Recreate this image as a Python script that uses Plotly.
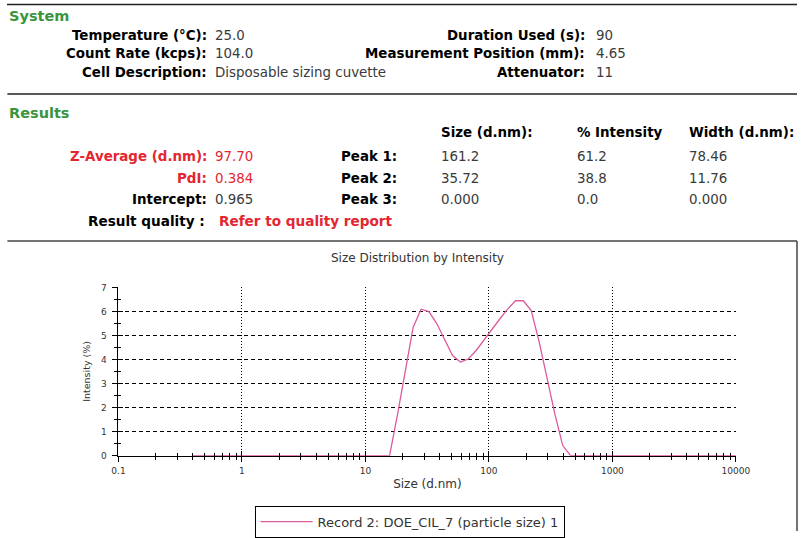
import plotly.graph_objects as go

# ---- Data ----
sizes_nm = [0.4000, 0.4632, 0.5365, 0.6213, 0.7195, 0.8332, 0.9649, 1.117, 1.294, 1.499,
            1.736, 2.010, 2.328, 2.696, 3.122, 3.615, 4.187, 4.849, 5.615, 6.503,
            7.531, 8.721, 10.10, 11.70, 13.54, 15.69, 18.17, 21.04, 24.36, 28.21,
            32.67, 37.84, 43.82, 50.75, 58.77, 68.06, 78.82, 91.28, 105.7, 122.4,
            141.8, 164.2, 190.1, 220.2, 255.0, 295.3, 342.0, 396.1, 458.7, 531.2,
            615.1, 712.4, 825.0, 955.4, 1106, 1281, 1484, 1718, 1990, 2305,
            2669, 3091, 3580, 4145, 4801, 5560, 6439, 7456, 8635, 10000]
intensity_pct = [0, 0, 0, 0, 0, 0, 0, 0, 0, 0,
                 0, 0, 0, 0, 0, 0, 0, 0, 0, 0,
                 0, 0, 0, 0, 0, 0, 1.7, 3.6, 5.35, 6.1,
                 6.0, 5.5, 4.8, 4.17, 3.9, 4.03, 4.38, 4.83, 5.28, 5.69,
                 6.1, 6.45, 6.45, 6.04, 4.75, 3.26, 1.74, 0.42, 0, 0,
                 0, 0, 0, 0, 0, 0, 0, 0, 0, 0,
                 0, 0, 0, 0, 0, 0, 0, 0, 0, 0]

x_tick_vals = [0.1, 1, 10, 100, 1000, 10000]
x_tick_text = ["0.1", "1", "10", "100", "1000", "10000"]
x_minor_vals = [m * d for d in [0.1, 1, 10, 100, 1000] for m in range(2, 10)]

system_left = [("Temperature (°C):", "25.0"),
               ("Count Rate (kcps):", "104.0"),
               ("Cell Description:", "Disposable sizing cuvette")]
system_right = [("Duration Used (s):", "90"),
                ("Measurement Position (mm):", "4.65"),
                ("Attenuator:", "11")]
results_left = [("Z-Average (d.nm):", "97.70", True),
                ("PdI:", "0.384", True),
                ("Intercept:", "0.965", False)]
peak_headers = ["Size (d.nm):", "% Intensity", "Width (d.nm):"]
peak_names = ["Peak 1:", "Peak 2:", "Peak 3:"]
peak_size = ["161.2", "35.72", "0.000"]
peak_intensity = ["61.2", "38.8", "0.0"]
peak_width = ["78.46", "11.76", "0.000"]

# ---- Layout helpers ----
# Measured page mapping: picture_x = OX + SX*fig_x ; picture_y = OY + SY*fig_y
SX, OX = 0.9735, 7.6
SY, OY = 0.979, 3.6
W, H = 811, 538
FONT = "DejaVu Sans, Verdana, sans-serif"
GREEN = "#3a9440"
RED = "#e3262f"
VAL = "#3a3a3a"
ROW = 13.4


def px(x):
    return min(max((x - OX) / SX / W, 0), 1)


def py(y):
    return min(max(1 - (y - OY) / SY / H, 0), 1)


anns = []


def text(t, x, y, anchor="left", color="black", bold=False, size=ROW):
    anns.append(dict(text=("<b>%s</b>" % t) if bold else t, x=px(x), y=py(y),
                     xref="paper", yref="paper", xanchor=anchor, yanchor="middle",
                     showarrow=False, borderpad=0,
                     font=dict(family=FONT, size=size, color=color)))


text("System", 9, 16, color=GREEN, bold=True, size=14.5)
rows_y = [35, 53.5, 72]
for (lab, val), y in zip(system_left, rows_y):
    text(lab, 208, y, anchor="right", bold=True)
    text(val, 214, y, color=VAL)
for (lab, val), y in zip(system_right, rows_y):
    text(lab, 586, y, anchor="right", bold=True)
    text(val, 595, y, color=VAL)

text("Results", 9, 113, color=GREEN, bold=True, size=14.5)
res_y = [156, 178, 199]
for (lab, val, red), y in zip(results_left, res_y):
    text(lab, 208, y, anchor="right", bold=True, color=RED if red else "black")
    text(val, 214, y, color=RED if red else VAL)
col_x = [440, 576, 688]
for h, cx in zip(peak_headers, col_x):
    text(h, cx, 132, bold=True)
for i, y in enumerate(res_y):
    text(peak_names[i], 398, y, anchor="right", bold=True)
    text(peak_size[i], col_x[0], y, color=VAL)
    text(peak_intensity[i], col_x[1], y, color=VAL)
    text(peak_width[i], col_x[2], y, color=VAL)
text("Result quality :", 206, 220, anchor="right", bold=True, size=13.6)
text("Refer to quality report", 218, 220, color=RED, bold=True, size=13.6)

shapes = [
    dict(type="line", xref="paper", yref="paper", x0=0, x1=1, y0=0.999, y1=0.999,
         line=dict(color="#222", width=1.5)),
    dict(type="line", xref="paper", yref="paper", x0=px(8), x1=1, y0=py(93.5), y1=py(93.5),
         line=dict(color="#222", width=1.5)),
    dict(type="line", xref="paper", yref="paper", x0=px(8), x1=px(799), y0=py(240.5), y1=py(240.5),
         line=dict(color="#444", width=1.5)),
    dict(type="line", xref="paper", yref="paper", x0=px(799), x1=px(799), y0=py(240.5), y1=0,
         line=dict(color="#444", width=1.5)),
]

fig = go.Figure()
fig.add_trace(go.Scatter(x=sizes_nm, y=intensity_pct, mode="lines",
                         name="Record 2: DOE_CIL_7 (particle size) 1",
                         line=dict(color="#dc5a9e", width=1.3)))
# invisible companion trace carrying the overlay axes (inside half of crossing ticks)
fig.add_trace(go.Scatter(x=sizes_nm, y=intensity_pct, mode="lines", xaxis="x2", yaxis="y2",
                         showlegend=False, hoverinfo="skip", opacity=0,
                         line=dict(color="rgba(0,0,0,0)")))

# plot frame geometry (picture pixels): x 0.1 -> 119, 10000 -> 736 ; y 0 -> 455, 7 -> 287
X0, X1, Y0, Y1 = 119, 736, 455, 287
XR = [-1, 4.004]
YR = [0, 7.015]
dec_px = (X1 - X0) / 5.0
unit_px = (Y0 - Y1) / 7.0
xdom = [px(X0), px(X0 + dec_px * (XR[1] - XR[0]))]
ydom = [py(Y0), py(Y0 - unit_px * YR[1])]
tickfont = dict(family=FONT, size=9, color="#333")

fig.update_layout(
    width=W, height=H, autosize=False,
    margin=dict(l=0, r=0, t=0, b=0, pad=0),
    paper_bgcolor="white", plot_bgcolor="white",
    font=dict(family=FONT),
    title=dict(text="Size Distribution by Intensity", x=px(414), y=py(256),
               xanchor="center", yanchor="middle",
               font=dict(family=FONT, size=12, color="#333")),
    xaxis=dict(type="log", range=XR, domain=xdom, anchor="y",
               showline=True, linecolor="black", linewidth=1,
               ticks="outside", ticklen=5, tickcolor="black",
               tickvals=x_tick_vals, ticktext=x_tick_text, tickfont=tickfont,
               ticklabelstandoff=2,
               minor=dict(tickvals=x_minor_vals, ticks="outside", ticklen=3,
                          tickcolor="black", showgrid=False),
               showgrid=True, gridcolor="black", gridwidth=1, griddash="1px,2px",
               zeroline=False,
               title=dict(text="Size (d.nm)", font=dict(family=FONT, size=12, color="#333"),
                          standoff=4)),
    yaxis=dict(range=YR, domain=ydom, anchor="x",
               showline=True, linecolor="black", linewidth=1,
               ticks="outside", ticklen=5, tickcolor="black",
               dtick=1, tick0=0, tickfont=tickfont, ticklabelstandoff=4,
               minor=dict(dtick=0.5, ticks="outside", ticklen=3, tickcolor="black",
                          showgrid=False),
               showgrid=True, gridcolor="black", gridwidth=1, griddash="4px,3px",
               zeroline=False,
               title=dict(text="Intensity (%)", font=dict(family=FONT, size=9.5, color="#333"),
                          standoff=8)),
    xaxis2=dict(type="log", range=XR, domain=xdom, overlaying="x", anchor="y",
                showline=False, ticks="inside", ticklen=5, tickcolor="black",
                tickvals=x_tick_vals, showticklabels=False, showgrid=False, zeroline=False,
                minor=dict(tickvals=x_minor_vals, ticks="inside", ticklen=3,
                           tickcolor="black", showgrid=False)),
    yaxis2=dict(range=YR, domain=ydom, overlaying="y", anchor="x",
                showline=False, ticks="inside", ticklen=5, tickcolor="black",
                dtick=1, tick0=0, showticklabels=False, showgrid=False, zeroline=False,
                minor=dict(dtick=0.5, ticks="inside", ticklen=3, tickcolor="black",
                           showgrid=False)),
    showlegend=True,
    legend=dict(x=px(255), y=py(521), xanchor="left", yanchor="middle",
                bordercolor="black", borderwidth=1, bgcolor="white",
                font=dict(family=FONT, size=13, color="#333"),
                itemwidth=52),
    annotations=anns,
    shapes=shapes,
)

fig.write_html("out.html")
